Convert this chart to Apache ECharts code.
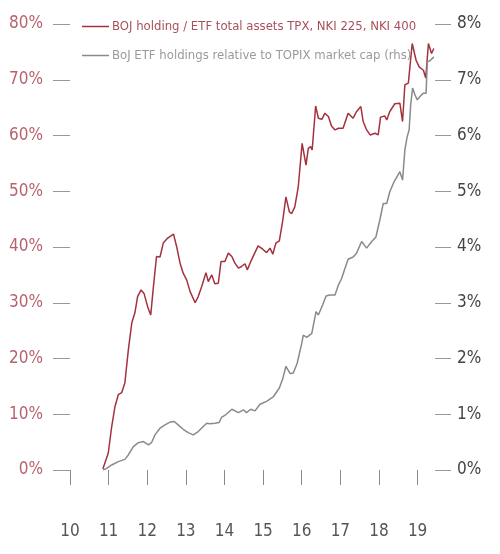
<!DOCTYPE html>
<html>
<head>
<meta charset="utf-8">
<script src="https://cdn.jsdelivr.net/npm/echarts@6/dist/echarts.min.js"></script>
<style>
  html, body { margin: 0; padding: 0; background: #fff; }
  #chart { width: 500px; height: 554px; }
</style>
</head>
<body>
<div id="chart"></div>
<script>
// Decimal-year dates and values
var bojDates = [2010.85, 2010.99, 2011.08, 2011.165, 2011.25, 2011.34, 2011.42, 2011.51, 2011.60, 2011.68,
  2011.75, 2011.84, 2011.92, 2012.01, 2012.09, 2012.16, 2012.24, 2012.33, 2012.415, 2012.53,
  2012.68, 2012.76, 2012.85, 2012.93, 2013.02, 2013.11, 2013.24, 2013.32, 2013.41, 2013.52,
  2013.58, 2013.67, 2013.75, 2013.84, 2013.91, 2014.01, 2014.10, 2014.19, 2014.27, 2014.36,
  2014.44, 2014.53, 2014.59, 2014.70, 2014.87, 2014.99, 2015.09, 2015.18, 2015.25, 2015.33,
  2015.42, 2015.51, 2015.59, 2015.68, 2015.74, 2015.82, 2015.91, 2016.01, 2016.11, 2016.17,
  2016.23, 2016.27, 2016.36, 2016.43, 2016.52, 2016.60, 2016.69, 2016.77, 2016.86, 2016.95,
  2017.07, 2017.20, 2017.33, 2017.42, 2017.53, 2017.59, 2017.68, 2017.77, 2017.90, 2017.98,
  2018.04, 2018.15, 2018.20, 2018.28, 2018.41, 2018.54, 2018.61, 2018.67, 2018.76, 2018.86,
  2018.96, 2019.04, 2019.15, 2019.21, 2019.28, 2019.36, 2019.42];
var bojShare = [0.2, 3.0, 7.8, 11.4, 13.5, 13.9, 15.6, 21.5, 26.4, 28.2,
  31.1, 32.3, 31.6, 29.3, 27.8, 32.9, 38.3, 38.2, 40.7, 41.6,
  42.3, 40.1, 37.1, 35.3, 34.1, 32.0, 30.0, 31.1, 32.9, 35.4,
  33.8, 35.0, 33.4, 33.5, 37.4, 37.4, 38.9, 38.3, 37.1, 36.2,
  36.5, 37.0, 35.9, 37.7, 40.2, 39.6, 39.0, 39.8, 38.7, 40.7,
  41.1, 44.8, 49.0, 46.3, 46.0, 47.2, 50.8, 58.6, 54.7, 57.7,
  58.0, 57.4, 65.3, 63.1, 62.9, 64.0, 63.4, 61.7, 61.0, 61.3,
  61.3, 64.0, 63.1, 64.3, 65.2, 62.5, 61.0, 60.1, 60.4, 60.1,
  63.3, 63.5, 62.8, 64.3, 65.7, 65.8, 62.5, 69.1, 69.4, 76.5,
  73.5, 72.3, 71.7, 70.3, 76.5, 74.7, 75.6];

var mcapDates = [2010.86, 2010.95, 2011.08, 2011.25, 2011.42, 2011.51, 2011.64, 2011.77, 2011.90, 2012.03,
  2012.11, 2012.20, 2012.33, 2012.46, 2012.59, 2012.70, 2012.80, 2012.93, 2013.06, 2013.19,
  2013.32, 2013.45, 2013.54, 2013.62, 2013.75, 2013.86, 2013.93, 2014.03, 2014.19, 2014.36,
  2014.49, 2014.57, 2014.68, 2014.79, 2014.92, 2015.09, 2015.26, 2015.42, 2015.51, 2015.59,
  2015.70, 2015.78, 2015.88, 2016.00, 2016.04, 2016.13, 2016.26, 2016.37, 2016.43, 2016.54,
  2016.63, 2016.73, 2016.86, 2016.95, 2017.03, 2017.12, 2017.20, 2017.33, 2017.42, 2017.55,
  2017.68, 2017.81, 2017.92, 2018.02, 2018.11, 2018.20, 2018.28, 2018.39, 2018.54, 2018.61,
  2018.67, 2018.73, 2018.78, 2018.82, 2018.87, 2018.93, 2018.99, 2019.06, 2019.15, 2019.22,
  2019.25, 2019.32, 2019.37, 2019.42];
var etfMcap = [0.00, 0.03, 0.09, 0.15, 0.19, 0.27, 0.42, 0.49, 0.51, 0.45,
  0.49, 0.63, 0.75, 0.81, 0.86, 0.87, 0.81, 0.73, 0.67, 0.63,
  0.69, 0.78, 0.84, 0.83, 0.84, 0.85, 0.95, 0.99, 1.09, 1.03,
  1.08, 1.03, 1.09, 1.06, 1.18, 1.23, 1.31, 1.47, 1.64, 1.86,
  1.73, 1.74, 1.91, 2.27, 2.42, 2.38, 2.45, 2.84, 2.78, 2.96,
  3.12, 3.14, 3.14, 3.32, 3.43, 3.62, 3.78, 3.82, 3.89, 4.10,
  3.98, 4.10, 4.18, 4.48, 4.78, 4.78, 4.99, 5.17, 5.35, 5.20,
  5.74, 5.98, 6.10, 6.55, 6.85, 6.73, 6.64, 6.70, 6.76, 6.76,
  7.32, 7.34, 7.35, 7.41];

var yearTicks = [2010, 2011, 2012, 2013, 2014, 2015, 2016, 2017, 2018, 2019];
var seriesNames = ['BOJ holding / ETF total assets TPX, NKI 225, NKI 400',
  'BoJ ETF holdings relative to TOPIX market cap (rhs)'];

function zip(xs, ys) { return xs.map(function (x, i) { return [x, ys[i]]; }); }

var FONT = "'Liberation Sans Narrow', 'DejaVu Sans Condensed', 'Roboto', sans-serif";
var chart = echarts.init(document.getElementById('chart'), null, { renderer: 'canvas' });
chart.setOption({
  animation: false,
  backgroundColor: '#ffffff',
  textStyle: { fontFamily: FONT },
  grid: { left: 70, right: 65, top: 24, bottom: 84, containLabel: false },
  legend: {
    orient: 'vertical',
    left: 77, top: 15,
    itemWidth: 27, itemHeight: 1.5,
    itemGap: 16,
    icon: 'rect',
    data: [
      { name: seriesNames[0], textStyle: { color: '#a8505b' } },
      { name: seriesNames[1], textStyle: { color: '#9a9a9a' } }
    ],
    textStyle: { fontFamily: FONT, fontSize: 13, padding: [0, 0, 0, -2] }
  },
  xAxis: {
    type: 'value', min: 2010, max: 2019.45,
    offset: 27,
    axisLine: { show: false },
    splitLine: { show: false },
    axisTick: { show: true, length: 15, customValues: yearTicks, lineStyle: { color: '#888', width: 1 } },
    axisLabel: {
      customValues: yearTicks,
      margin: 26, fontSize: 17, color: '#555', fontFamily: FONT,
      formatter: function (v) { return String(Math.round(v) % 100); }
    }
  },
  yAxis: [
    {
      type: 'value', min: 0, max: 80, interval: 10, position: 'left',
      axisLine: { show: false }, splitLine: { show: false },
      axisTick: { show: true, length: 17, lineStyle: { color: '#999' } },
      axisLabel: { margin: 27, fontSize: 17, color: '#b5636d', fontFamily: FONT, formatter: '{value}%' }
    },
    {
      type: 'value', min: 0, max: 8, interval: 1, position: 'right',
      axisLine: { show: false }, splitLine: { show: false },
      axisTick: { show: true, length: 16, lineStyle: { color: '#999' } },
      axisLabel: { margin: 22, fontSize: 17, color: '#444', fontFamily: FONT, formatter: '{value}%' }
    }
  ],
  series: [
    {
      name: seriesNames[0], type: 'line', yAxisIndex: 0,
      data: zip(bojDates, bojShare), showSymbol: false, symbol: 'none',
      lineStyle: { color: '#a3323f', width: 1.5 }, itemStyle: { color: '#a3323f' }
    },
    {
      name: seriesNames[1], type: 'line', yAxisIndex: 1,
      data: zip(mcapDates, etfMcap), showSymbol: false, symbol: 'none',
      lineStyle: { color: '#8a8a8a', width: 1.5 }, itemStyle: { color: '#8a8a8a' }
    }
  ]
});
</script>
</body>
</html>
